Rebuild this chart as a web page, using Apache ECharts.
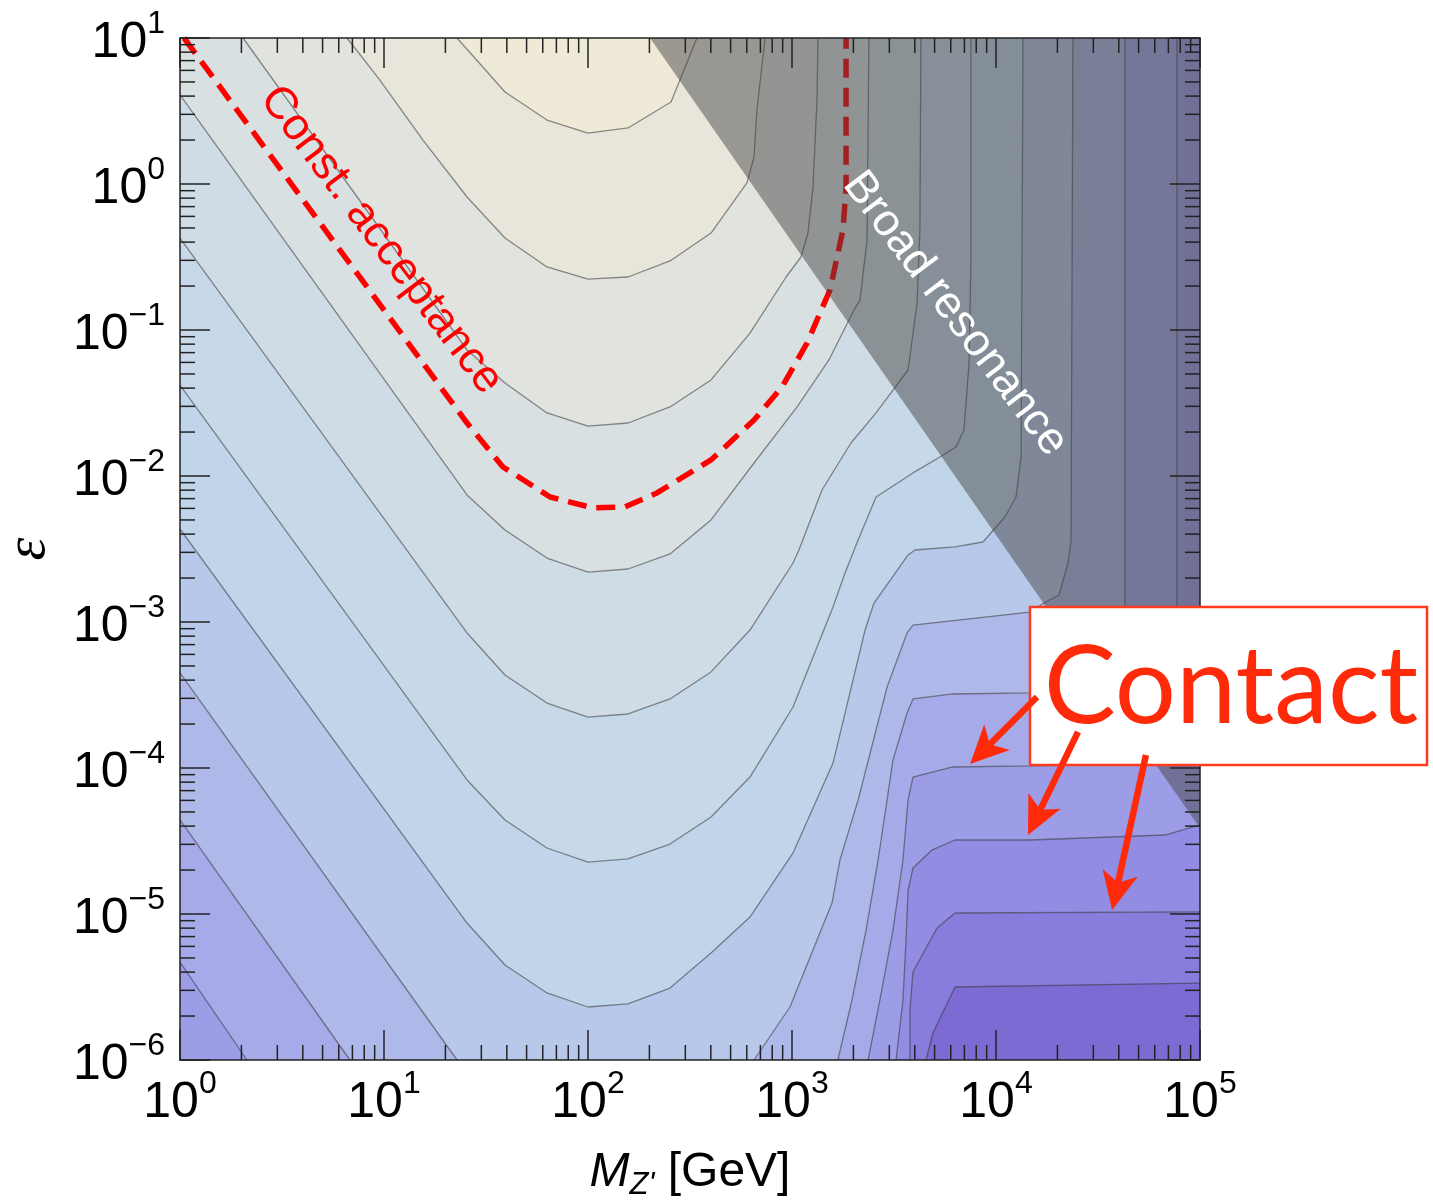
<!DOCTYPE html>
<html>
<head>
<meta charset="utf-8">
<script src="https://cdn.jsdelivr.net/npm/echarts@6/dist/echarts.min.js"></script>
<style>html,body{margin:0;padding:0;background:#fff}#c{width:1433px;height:1201px}</style>
</head>
<body>
<div id="c"></div>
<script>
// All points as [log10(M / GeV), log10(eps)]
const C1 = [[1.358,1.0],[1.593,0.630],[1.799,0.438],[2.000,0.349],[2.196,0.384],[2.407,0.562],[2.534,1.0]];
const C2 = [[0.819,1.0],[0.980,0.712],[1.191,0.301],[1.407,-0.089],[1.593,-0.370],[1.799,-0.568],[2.000,-0.651],[2.196,-0.637],[2.402,-0.527],[2.603,-0.336],[2.779,0.007],[2.814,0.185],[2.828,0.507],[2.868,1.0]];
const C3 = [[0.309,1.0],[1.407,-1.137],[1.593,-1.363],[1.799,-1.568],[2.000,-1.658],[2.196,-1.637],[2.402,-1.527],[2.603,-1.342],[2.794,-1.021],[2.971,-0.637],[3.044,-0.500],[3.078,-0.336],[3.103,-0.021],[3.123,0.596],[3.127,1.0]];
const C4 = [[0,0.610],[1.407,-2.130],[1.593,-2.370],[1.799,-2.562],[2.000,-2.658],[2.196,-2.637],[2.402,-2.534],[2.603,-2.301],[2.814,-1.911],[3.025,-1.527],[3.181,-1.205],[3.304,-0.863],[3.333,-0.795],[3.368,-0.384],[3.377,1.0]];
const C5 = [[0,-0.370],[1.407,-3.075],[1.593,-3.363],[1.799,-3.555],[2.000,-3.651],[2.196,-3.630],[2.402,-3.527],[2.603,-3.342],[2.794,-3.055],[3.005,-2.596],[3.034,-2.507],[3.147,-2.096],[3.289,-1.774],[3.412,-1.568],[3.569,-1.274],[3.613,-0.815],[3.627,-0.315],[3.632,1.0]];
const C6 = [[0,-1.377],[1.407,-4.082],[1.593,-4.356],[1.799,-4.548],[2.000,-4.644],[2.196,-4.623],[2.402,-4.521],[2.603,-4.336],[2.794,-4.062],[3.005,-3.582],[3.201,-2.897],[3.260,-2.664],[3.324,-2.438],[3.412,-2.144],[3.593,-1.979],[3.725,-1.870],[3.804,-1.801],[3.843,-1.685],[3.868,-1.226],[3.877,-0.541],[3.877,1.0]];
const C7 = [[0,-2.363],[1.407,-5.062],[1.593,-5.349],[1.799,-5.541],[2.000,-5.637],[2.196,-5.616],[2.402,-5.507],[2.603,-5.267],[2.794,-5.021],[3.005,-4.582],[3.201,-3.966],[3.358,-3.055],[3.402,-2.870],[3.569,-2.541],[3.603,-2.507],[3.799,-2.486],[3.936,-2.452],[4.044,-2.281],[4.098,-2.144],[4.123,-1.870],[4.132,0.829],[4.132,1.0]];
const C8a = [[0,-3.349],[1.358,-6.0]];
const C8b = [[2.814,-6.0],[2.990,-5.637],[3.196,-4.925],[3.235,-4.630],[3.324,-4.219],[3.466,-3.445],[3.564,-3.075],[3.593,-3.021],[4.167,-2.932],[4.235,-2.870],[4.309,-2.815],[4.353,-2.596],[4.368,-2.438],[4.377,1.0]];
const C9a = [[0,-4.356],[0.833,-6.0]];
const C9b = [[3.225,-6.0],[3.294,-5.589],[3.363,-5.110],[3.422,-4.630],[3.466,-4.219],[3.495,-3.945],[3.564,-3.623],[3.593,-3.527],[3.789,-3.493],[4.167,-3.486],[4.534,-3.466],[4.608,-3.329],[4.632,-2.986],[4.632,1.0]];
const C10a = [[0,-5.329],[0.328,-6.0]];
const C10b = [[3.373,-6.0],[3.431,-5.589],[3.495,-5.110],[3.544,-4.630],[3.569,-4.219],[3.593,-4.062],[3.789,-3.993],[4.167,-3.986],[4.804,-3.973],[4.863,-3.808],[4.887,-3.534],[4.887,1.0]];
const C11 = [[3.510,-6.0],[3.544,-5.589],[3.559,-5.178],[3.569,-4.836],[3.593,-4.685],[3.686,-4.562],[3.799,-4.493],[4.167,-4.493],[4.828,-4.459],[5.0,-4.390]];
const C12 = [[3.578,-6.0],[3.578,-5.658],[3.593,-5.397],[3.711,-5.096],[3.799,-4.993],[5.0,-4.986]];
const C13 = [[3.657,-6.0],[3.691,-5.815],[3.799,-5.500],[5.0,-5.473]];
const constAcceptance = [[0.020,1.0],[1.407,-1.637],[1.583,-1.938],[1.814,-2.144],[2.025,-2.219],[2.181,-2.212],[2.338,-2.116],[2.603,-1.890],[2.814,-1.616],[2.951,-1.390],[3.074,-1.089],[3.186,-0.726],[3.250,-0.315],[3.265,-0.021],[3.265,1.0]];
const broadResonance = [[2.304,1.0],[5.0,1.0],[5.0,-4.411]];
const contactArrows = [
  [[4.201,-3.514],[3.873,-3.973]],
  [[4.402,-3.753],[4.157,-4.459]],
  [[4.735,-3.911],[4.569,-4.973]]
];
const xMajor = [1,10,100,1000,10000,100000];
const yMajor = [1e-6,1e-5,1e-4,1e-3,1e-2,1e-1,1,10];
const mantissas = [2,3,4,5,6,7,8,9];
// band colours, highest level (top centre) to lowest (bottom right)
const bandColors = ['#efe9d8','#e8e6db','#e0e3de','#d8e0e2','#cfdce5','#c7d9e8','#c0d5ea','#b8c8ea','#afb9e9','#a6aae8','#9d9ce6','#928ce2','#887cdd','#7d6ad2'];

const P = p => [Math.pow(10, p[0]), Math.pow(10, p[1])];
const TL = [0,1], TR = [5,1], BR = [5,-6], BL = [0,-6];
const RED = '#ff2a0a';

const regions = [
  [[TL,TR,BR,BL], bandColors[13]],
  [[BL, ...C13, TR, TL], bandColors[12]],
  [[BL, ...C12, TR, TL], bandColors[11]],
  [[BL, ...C11, TR, TL], bandColors[10]],
  [[...C10a, ...C10b, TL], bandColors[9]],
  [[...C9a, ...C9b, TL], bandColors[8]],
  [[...C8a, ...C8b, TL], bandColors[7]],
  [[...C7, TL], bandColors[6]],
  [[...C6, TL], bandColors[5]],
  [[...C5, TL], bandColors[4]],
  [[...C4, TL], bandColors[3]],
  [C3, bandColors[2]],
  [C2, bandColors[1]],
  [C1, bandColors[0]]
];
const contourPieces = [C1,C2,C3,C4,C5,C6,C7,C8a,C8b,C9a,C9b,C10a,C10b,C11,C12,C13];

function polySeries(pts, fill, z) {
  return {
    type: 'custom', coordinateSystem: 'cartesian2d', silent: true, z: z, clip: true,
    data: pts.map(P),
    renderItem: function (params, api) {
      if (params.dataIndex !== 0) return null;
      return { type: 'polygon', shape: { points: pts.map(p => api.coord(P(p))) }, style: { fill: fill } };
    }
  };
}

const series = [];
regions.forEach(r => series.push(polySeries(r[0], r[1], 1)));
contourPieces.forEach(c => series.push({
  type: 'line', data: c.map(P), showSymbol: false, symbol: 'none', silent: true, z: 3,
  lineStyle: { color: 'rgba(55,55,55,0.55)', width: 1.3 }
}));
series.push({
  type: 'line', data: constAcceptance.map(P), showSymbol: false, symbol: 'none', silent: true, z: 4,
  lineStyle: { color: '#ff0000', width: 5.5, type: [19, 10] }
});
series.push(polySeries(broadResonance, 'rgba(64,64,64,0.48)', 5));

// ticks
const tickData = [];
xMajor.forEach(v => tickData.push([v, 1e-6, 0, 1]));
for (let k = 0; k < 5; k++) mantissas.forEach(m => tickData.push([m * xMajor[k], 1e-6, 0, 0]));
yMajor.forEach(v => tickData.push([1, v, 1, 1]));
for (let k = 0; k < 7; k++) mantissas.forEach(m => tickData.push([1, m * yMajor[k], 1, 0]));
series.push({
  type: 'custom', coordinateSystem: 'cartesian2d', silent: true, z: 6, clip: false,
  data: tickData,
  renderItem: function (params, api) {
    const kind = api.value(2), len = api.value(3) ? 30 : 15;
    const st = { stroke: '#222', lineWidth: 1.5 };
    if (kind === 0) {
      const v = api.value(0);
      const b = api.coord([v, 1e-6]), t = api.coord([v, 10]);
      return { type: 'group', children: [
        { type: 'line', shape: { x1: b[0], y1: b[1], x2: b[0], y2: b[1] - len }, style: st },
        { type: 'line', shape: { x1: t[0], y1: t[1], x2: t[0], y2: t[1] + len }, style: st }
      ]};
    } else {
      const v = api.value(1);
      const l = api.coord([1, v]), r = api.coord([1e5, v]);
      return { type: 'group', children: [
        { type: 'line', shape: { x1: l[0], y1: l[1], x2: l[0] + len, y2: l[1] }, style: st },
        { type: 'line', shape: { x1: r[0], y1: r[1], x2: r[0] - len, y2: r[1] }, style: st }
      ]};
    }
  }
});

// arrows
series.push({
  type: 'custom', coordinateSystem: 'cartesian2d', silent: true, z: 60, clip: false,
  data: contactArrows.map(a => [...P(a[0]), ...P(a[1])]),
  encode: { x: [0, 2], y: [1, 3] },
  renderItem: function (params, api) {
    const t = api.coord([api.value(0), api.value(1)]);
    const h = api.coord([api.value(2), api.value(3)]);
    const dx = h[0] - t[0], dy = h[1] - t[1], L = Math.hypot(dx, dy), ux = dx / L, uy = dy / L;
    const back = 38, hw = 18, notch = 28;
    const bx = h[0] - ux * back, by = h[1] - uy * back;
    const nx = h[0] - ux * notch, ny = h[1] - uy * notch;
    return { type: 'group', children: [
      { type: 'line', shape: { x1: t[0], y1: t[1], x2: nx, y2: ny }, style: { stroke: RED, lineWidth: 6.5 } },
      { type: 'polygon', shape: { points: [[h[0], h[1]], [bx - uy * hw, by + ux * hw], [nx, ny], [bx + uy * hw, by - ux * hw]] }, style: { fill: RED } }
    ]};
  }
});

const sup = e => String(e).replace('-', '\u2212');
const labelFmt = v => '{b|10}{s|' + sup(Math.round(Math.log10(v))) + '}';
const labelRich = {
  b: { fontSize: 50, fontFamily: 'Liberation Sans', color: '#000', verticalAlign: 'bottom', lineHeight: 60 },
  s: { fontSize: 32, fontFamily: 'Liberation Sans', color: '#000', verticalAlign: 'top', lineHeight: 60 }
};
const axisLineStyle = { show: true, onZero: false, lineStyle: { color: '#222', width: 1.5 } };

const option = {
  animation: false,
  grid: { left: 180, top: 38, width: 1020, height: 1022, containLabel: false, outerBoundsMode: 'none' },
  xAxis: [
    { type: 'log', logBase: 10, min: 1, max: 100000, splitNumber: 5, position: 'bottom', z: 10,
      axisLine: axisLineStyle, axisTick: { show: false }, splitLine: { show: false },
      axisLabel: { formatter: labelFmt, rich: labelRich, margin: 8, showMinLabel: true, showMaxLabel: true },
      name: '{i|M}{sub|Z\'}{n| [GeV]}', nameLocation: 'middle', nameGap: 89,
      nameTextStyle: { rich: {
        i: { fontSize: 48, fontFamily: 'Liberation Sans', fontStyle: 'italic', color: '#000', verticalAlign: 'top', lineHeight: 52 },
        sub: { fontSize: 31, fontFamily: 'Liberation Sans', fontStyle: 'italic', color: '#000', verticalAlign: 'bottom', lineHeight: 52 },
        n: { fontSize: 48, fontFamily: 'Liberation Sans', color: '#000', verticalAlign: 'top', lineHeight: 52 }
      }}
    },
    { type: 'log', logBase: 10, min: 1, max: 100000, position: 'top', z: 10,
      axisLine: axisLineStyle, axisTick: { show: false }, splitLine: { show: false }, axisLabel: { show: false } }
  ],
  yAxis: [
    { type: 'log', logBase: 10, min: 1e-6, max: 10, splitNumber: 7, position: 'left', z: 10,
      axisLine: axisLineStyle, axisTick: { show: false }, splitLine: { show: false },
      axisLabel: { formatter: labelFmt, rich: labelRich, margin: 15, showMinLabel: true, showMaxLabel: true },
      name: '\u03b5', nameLocation: 'middle', nameRotate: 90, nameGap: 122,
      nameTextStyle: { fontSize: 58, fontFamily: 'Liberation Serif', fontStyle: 'italic', color: '#000' }
    },
    { type: 'log', logBase: 10, min: 1e-6, max: 10, position: 'right', z: 10,
      axisLine: axisLineStyle, axisTick: { show: false }, splitLine: { show: false }, axisLabel: { show: false } }
  ],
  graphic: [
    { type: 'text', x: 381, y: 240, rotation: -53 * Math.PI / 180, z: 40, silent: true,
      style: { text: 'Const. acceptance', fill: '#ff0000', fontSize: 45, fontFamily: 'Liberation Sans', align: 'center', verticalAlign: 'middle' } },
    { type: 'text', x: 955, y: 314, rotation: -53 * Math.PI / 180, z: 40, silent: true,
      style: { text: 'Broad resonance', fill: '#ffffff', fontSize: 45, fontFamily: 'Liberation Sans', align: 'center', verticalAlign: 'middle' } },
    { type: 'rect', z: 50, silent: true, shape: { x: 1030, y: 607, width: 397, height: 158 },
      style: { fill: '#ffffff', stroke: '#ff3b1f', lineWidth: 2.5 } },
    { type: 'text', x: 1231, y: 688, z: 51, silent: true,
      style: { text: 'Contact', fill: RED, fontSize: 108, fontFamily: 'Lato', align: 'center', verticalAlign: 'middle' } }
  ],
  series: series
};
const chart = echarts.init(document.getElementById('c'), null, { renderer: 'canvas' });
chart.setOption(option);
</script>
</body>
</html>
